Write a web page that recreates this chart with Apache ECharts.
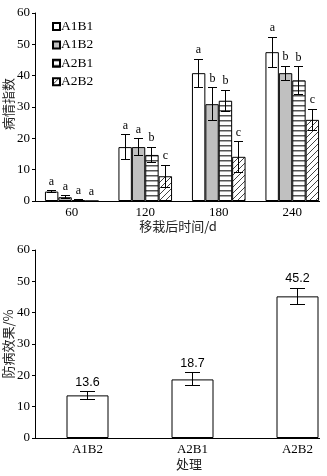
<!DOCTYPE html>
<html>
<head>
<meta charset="utf-8">
<script src="https://cdn.jsdelivr.net/npm/echarts@6/dist/echarts.min.js"></script>
<style>
html, body { margin: 0; padding: 0; background: #fff; }
#clip { width: 320px; height: 476px; overflow: hidden; }
#chart { width: 360px; height: 476px; }
</style>
</head>
<body>
<div id="clip"><div id="chart"></div></div>
<script>
// Disease index by days after transplanting
const days = ['60', '120', '180', '240'];
const groups = ['A1B1', 'A1B2', 'A2B1', 'A2B2'];

const meanA1B1 = [3.0, 17.2, 40.8, 47.5];
const sdA1B1 = [0.3, 3.9, 4.5, 4.8];
const letterA1B1 = ['a', 'a', 'a', 'a'];

const meanA1B2 = [1.2, 17.2, 30.9, 40.8];
const sdA1B2 = [0.4, 2.6, 5.3, 2.2];
const letterA1B2 = ['a', 'a', 'b', 'b'];

const meanA2B1 = [0.3, 14.7, 32.0, 38.5];
const sdA2B1 = [0.1, 2.5, 3.4, 4.4];
const letterA2B1 = ['a', 'b', 'b', 'b'];

const meanA2B2 = [0, 7.9, 14.1, 25.9];
const sdA2B2 = [0, 3.5, 4.9, 3.4];
const letterA2B2 = ['a', 'c', 'c', 'c'];

// Control effect by treatment
const treatments = ['A1B2', 'A2B1', 'A2B2'];
const effect = [13.6, 18.7, 45.2];
const effectSd = [1.2, 2.1, 2.5];

const yTicks = [0, 10, 20, 30, 40, 50, 60];

const SERIF = 'Liberation Serif';
const CJK = 'Noto Sans CJK SC';
const BAR_W = 13.4;
const BAR_W2 = 42;

// fill patterns
function stripeH() {
  const c = document.createElement('canvas');
  c.width = 5; c.height = 5;
  const g = c.getContext('2d');
  g.fillStyle = '#fff'; g.fillRect(0, 0, 5, 5);
  g.fillStyle = '#555'; g.fillRect(0, 0, 5, 1.5);
  return c;
}
function stripeDiag() {
  const s = 6;
  const c = document.createElement('canvas');
  c.width = s; c.height = s;
  const g = c.getContext('2d');
  g.fillStyle = '#fff'; g.fillRect(0, 0, s, s);
  g.strokeStyle = '#444'; g.lineWidth = 1;
  g.beginPath();
  g.moveTo(0, s); g.lineTo(s, 0);
  g.moveTo(-1, 1); g.lineTo(1, -1);
  g.moveTo(s - 1, s + 1); g.lineTo(s + 1, s - 1);
  g.stroke();
  return c;
}

const fills = [
  '#ffffff',
  '#c0c0c0',
  { image: stripeH(), repeat: 'repeat' },
  { image: stripeDiag(), repeat: 'repeat' }
];
const means = [meanA1B1, meanA1B2, meanA2B1, meanA2B2];
const sds = [sdA1B1, sdA1B2, sdA2B1, sdA2B2];
const letters = [letterA1B1, letterA1B2, letterA2B1, letterA2B2];

function crisp(v) { return Math.round(v - 0.5) + 0.5; }

function errorBar(offsetFn, capW, textFn, font) {
  return function (params, api) {
    const i = api.value(0), v = api.value(1), e = api.value(2);
    const off = offsetFn();
    const top = api.coord([i, v + e]);
    const bot = api.coord([i, v - e]);
    const x = crisp(top[0] + off);
    const children = [];
    if (e > 0) {
      const y1 = crisp(top[1]), y2 = crisp(bot[1]);
      const st = { stroke: '#000', lineWidth: 1 };
      children.push({ type: 'line', shape: { x1: x, y1: y1, x2: x, y2: y2 }, style: st });
      children.push({ type: 'line', shape: { x1: x - capW / 2, y1: y1, x2: x + capW / 2, y2: y1 }, style: st });
      children.push({ type: 'line', shape: { x1: x - capW / 2, y1: y2, x2: x + capW / 2, y2: y2 }, style: st });
    }
    children.push({
      type: 'text',
      x: x, y: top[1] - 3,
      style: {
        text: textFn(params.dataIndex),
        fill: '#000',
        font: font,
        align: 'center',
        verticalAlign: 'bottom'
      }
    });
    return { type: 'group', children: children };
  };
}

const series = [];
groups.forEach(function (name, k) {
  series.push({
    name: name,
    type: 'bar',
    xAxisIndex: 0, yAxisIndex: 0,
    barWidth: BAR_W,
    barGap: '0%',
    data: means[k],
    itemStyle: { color: fills[k], borderColor: '#000', borderWidth: 1 },
    silent: true
  });
});
groups.forEach(function (name, k) {
  series.push({
    name: name + '-err',
    type: 'custom',
    xAxisIndex: 0, yAxisIndex: 0,
    z: 5,
    data: days.map(function (d, i) { return [i, means[k][i], sds[k][i]]; }),
    renderItem: errorBar(function () { return (k - 1.5) * BAR_W; }, 9,
      function (idx) { return letters[k][idx]; }, '12px "' + SERIF + '"'),
    silent: true
  });
});
series.push({
  name: '防病效果',
  type: 'bar',
  xAxisIndex: 1, yAxisIndex: 1,
  barWidth: BAR_W2,
  data: effect,
  itemStyle: { color: '#fff', borderColor: '#000', borderWidth: 1 },
  silent: true
});
series.push({
  name: '防病效果-err',
  type: 'custom',
  xAxisIndex: 1, yAxisIndex: 1,
  z: 5,
  data: treatments.map(function (t, i) { return [i, effect[i], effectSd[i]]; }),
  renderItem: errorBar(function () { return 0; }, 15,
    function (idx) { return effect[idx].toFixed(1); }, '12.5px "Liberation Sans"'),
  silent: true
});

function valueAxis(gridIndex, name, namePad) {
  return {
    type: 'value',
    gridIndex: gridIndex,
    min: yTicks[0], max: yTicks[yTicks.length - 1], interval: yTicks[1] - yTicks[0],
    name: name,
    nameLocation: 'middle',
    nameGap: 20,
    nameMoveOverlap: false,
    nameTextStyle: { fontFamily: CJK, fontSize: 13, color: '#222', padding: namePad },
    axisLine: { show: true, lineStyle: { color: '#000', width: 1 } },
    axisTick: { show: true, inside: false, length: 3, lineStyle: { color: '#000' } },
    axisLabel: { fontFamily: SERIF, fontSize: 13, color: '#000', margin: 5 },
    splitLine: { show: false }
  };
}
function categoryAxis(gridIndex, cats, name, gap, pad) {
  return {
    type: 'category',
    gridIndex: gridIndex,
    data: cats,
    name: name,
    nameLocation: 'middle',
    nameGap: gap,
    nameMoveOverlap: false,
    nameTextStyle: { fontFamily: CJK, fontSize: 13, color: '#222', padding: pad },
    axisLine: { show: true, lineStyle: { color: '#000', width: 1 } },
    axisTick: { show: false },
    axisLabel: { fontFamily: SERIF, fontSize: 13, color: '#000', margin: 5 },
    splitLine: { show: false }
  };
}

const chart = echarts.init(document.getElementById('chart'), null, { renderer: 'canvas' });
chart.setOption({
  animation: false,
  backgroundColor: '#fff',
  grid: [
    { left: 35, top: 13, width: 294, height: 188, containLabel: false, outerBoundsMode: 'none' },
    { left: 35, top: 250, width: 315, height: 188, containLabel: false, outerBoundsMode: 'none' }
  ],
  legend: {
    data: groups,
    orient: 'vertical',
    left: 52,
    top: 19.5,
    padding: 0,
    icon: 'rect',
    itemWidth: 7,
    itemHeight: 7,
    itemGap: 4.4,
    selectedMode: false,
    textStyle: { fontFamily: SERIF, fontSize: 13.5, color: '#000', lineHeight: 12, padding: [0, 0, 0, -4] }
  },
  xAxis: [
    categoryAxis(0, days, '移栽后时间/d', 19, [0, 8, 0, 0]),
    categoryAxis(1, treatments, '处理', 20, [0, 7, 0, 0])
  ],
  yAxis: [
    valueAxis(0, '病情指数', [0, 0, 0, 6]),
    valueAxis(1, '防病效果/%', [0, 0, 0, 0])
  ],
  series: series
});
</script>
</body>
</html>
